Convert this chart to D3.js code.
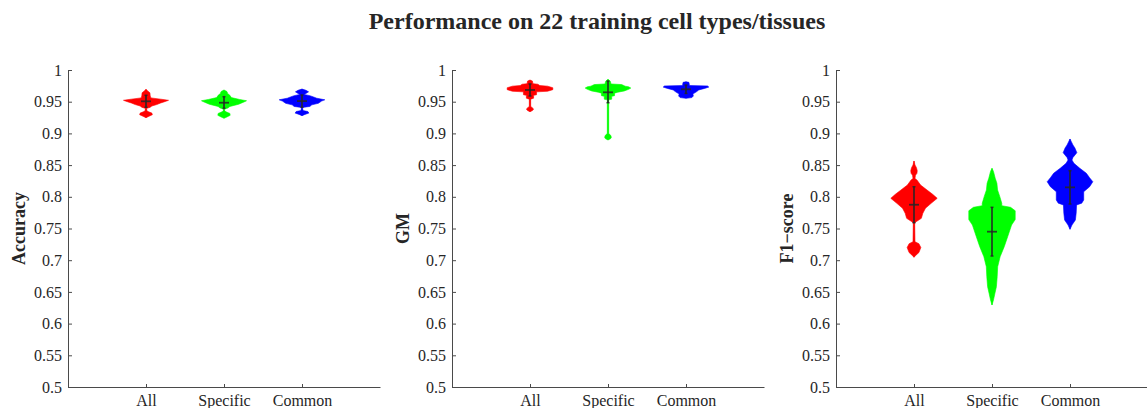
<!DOCTYPE html>
<html>
<head>
<meta charset="utf-8">
<script src="https://cdn.jsdelivr.net/npm/d3@7"></script>
<style>
  body { margin: 0; background: #fff; }
  svg { display: block; font-family: 'Liberation Serif', 'Times New Roman', serif; }
</style>
</head>
<body>
<svg id="chart" width="1147" height="408"></svg>
<script>
// categories and panels
const groups = ['All', 'Specific', 'Common']
const metrics = ['Accuracy', 'GM', 'F1\u2212score']
const yTicks = [0.5, 0.55, 0.6, 0.65, 0.7, 0.75, 0.8, 0.85, 0.9, 0.95, 1]

// violin outlines: [value, relative density]
const accAll = [[0.9248,0],[0.9270,3],[0.9295,6.5],[0.9320,6],[0.9345,2],[0.9365,0.7],[0.9395,0.7],[0.9410,4],[0.9432,6],[0.9455,11],[0.9480,15],[0.9500,19],[0.9522,23],[0.9540,15],[0.9560,5],[0.9590,4.3],[0.9640,4],[0.9665,2],[0.9696,0]]
const accSpecific = [[0.9238,0],[0.9260,3],[0.9285,6.3],[0.9315,6],[0.9340,2],[0.9360,0.7],[0.9385,0.7],[0.9400,4],[0.9425,6],[0.9460,15],[0.9500,21],[0.9515,23],[0.9535,16],[0.9565,7.5],[0.9600,6],[0.9630,3.7],[0.9660,3],[0.9685,0]]
const accCommon = [[0.9279,0],[0.9300,3],[0.9320,7],[0.9345,6],[0.9360,1],[0.9390,0.7],[0.9410,0.7],[0.9425,8],[0.9450,10],[0.9475,16.7],[0.9510,20],[0.9530,23.3],[0.9555,15],[0.9575,11.7],[0.9595,8],[0.9615,2],[0.9630,4],[0.9655,6.7],[0.9680,4],[0.9700,0]]

const gmAll = [[0.9342,0],[0.9360,2.5],[0.9385,3.7],[0.9410,2],[0.9425,0.7],[0.9540,0.7],[0.9555,3.7],[0.9600,3.7],[0.9610,6.7],[0.9655,6.7],[0.9665,18],[0.9690,23.3],[0.9720,23.3],[0.9745,18],[0.9755,10],[0.9775,8],[0.9785,3],[0.9825,2.5],[0.9842,0]]
const gmSpecific = [[0.8896,0],[0.8915,2.5],[0.8940,3.5],[0.8975,2.5],[0.9000,0.7],[0.9530,0.7],[0.9540,3.8],[0.9585,3.8],[0.9595,6.7],[0.9635,6.7],[0.9650,10],[0.9670,16.7],[0.9695,21],[0.9715,23.3],[0.9735,21],[0.9745,17.5],[0.9770,14],[0.9780,3],[0.9820,2.5],[0.9853,0]]
const gmCommon = [[0.9553,0],[0.9565,6],[0.9590,7.5],[0.9620,7],[0.9640,9],[0.9660,11],[0.9685,13],[0.9710,19],[0.9730,23.3],[0.9748,22],[0.9755,3.5],[0.9780,3.3],[0.9805,3],[0.9815,0]]

const f1All = [[0.7046,0],[0.7080,2],[0.7120,5],[0.7200,7],[0.7260,5],[0.7292,1],[0.7587,0.7],[0.7610,2.5],[0.7660,7.5],[0.7740,9],[0.7820,11.7],[0.7897,17.5],[0.7976,23.7],[0.8040,19],[0.8107,13.3],[0.8186,6.7],[0.8265,3],[0.8290,1],[0.8340,1.5],[0.8370,3],[0.8412,3.3],[0.8460,2.5],[0.8502,1],[0.8565,0]]
const f1Specific = [[0.6293,0],[0.6372,1.5],[0.6478,3],[0.6582,4.5],[0.6740,5.3],[0.6897,5.8],[0.7055,8.3],[0.7213,12.5],[0.7371,16],[0.7555,20],[0.7640,23.7],[0.7780,23.7],[0.7834,19],[0.7860,10],[0.7897,10],[0.8002,8],[0.8107,5.7],[0.8213,5],[0.8292,3.3],[0.8400,1.5],[0.8449,0]]
const f1Common = [[0.7487,0],[0.7555,2],[0.7634,5.5],[0.7740,6.3],[0.7871,6.7],[0.7900,12],[0.7950,14],[0.8080,14],[0.8159,20],[0.8238,23.3],[0.8300,20],[0.8371,16.7],[0.8450,10],[0.8528,4],[0.8580,2],[0.8620,3],[0.8696,7],[0.8770,5],[0.8817,3],[0.8880,1],[0.8912,0]]

// mean and mean +/- std
const accMeans = [0.9506, 0.9484, 0.9510]
const accLo = [0.9412, 0.9396, 0.9412]
const accHi = [0.9601, 0.9579, 0.9606]
const gmMeans = [0.9685, 0.9648, 0.9696]
const gmLo = [0.9590, 0.9484, 0.9630]
const gmHi = [0.9780, 0.9826, 0.9763]
const f1Means = [0.7875, 0.7450, 0.8149]
const f1Lo = [0.7591, 0.7066, 0.7886]
const f1Hi = [0.8159, 0.7834, 0.8412]

const panelData = [
  { profiles: [accAll, accSpecific, accCommon], means: accMeans, lo: accLo, hi: accHi },
  { profiles: [gmAll, gmSpecific, gmCommon], means: gmMeans, lo: gmLo, hi: gmHi },
  { profiles: [f1All, f1Specific, f1Common], means: f1Means, lo: f1Lo, hi: f1Hi }
]

const colors = ['#ff0000', '#00ff00', '#0000ff']
const svg = d3.select('#chart')
const panelLeft = [68, 452, 836]
const panelWidth = 312
const plotTop = 70
const plotBottom = 387
const axisColor = '#4a4a4a'
const textColor = '#262626'

svg.append('text')
  .attr('x', 597)
  .attr('y', 29)
  .attr('text-anchor', 'middle')
  .attr('font-size', 24)
  .attr('font-weight', 'bold')
  .attr('fill', textColor)
  .text('Performance on 22 training cell types/tissues')

const yScale = d3.scaleLinear().domain([0.5, 1]).range([plotBottom, plotTop])
const wScale = d3.scaleLinear().domain([0, 24]).range([0, 23.5])

panelData.forEach((p, pi) => {
  const left = panelLeft[pi]
  const xScale = d3.scaleLinear().domain([0, 4]).range([left, left + panelWidth])
  const g = svg.append('g')

  // violins
  p.profiles.forEach((prof, i) => {
    const cx = xScale(i + 1)
    const area = d3.area()
      .y(d => yScale(d[0]))
      .x0(d => cx - wScale(d[1]))
      .x1(d => cx + wScale(d[1]))
      .curve(d3.curveLinear)
    g.append('path')
      .datum(prof)
      .attr('d', area)
      .attr('fill', colors[i])
      .attr('stroke', colors[i])
      .attr('stroke-width', 0.6)

    // min-max whisker
    g.append('line')
      .attr('x1', cx).attr('x2', cx)
      .attr('y1', yScale(prof[0][0]))
      .attr('y2', yScale(prof[prof.length - 1][0]))
      .attr('stroke', colors[i])
      .attr('stroke-opacity', 0.5)
      .attr('stroke-width', 1.5)

    // mean +/- std bar and mean tick
    g.append('line')
      .attr('x1', cx).attr('x2', cx)
      .attr('y1', yScale(p.lo[i]))
      .attr('y2', yScale(p.hi[i]))
      .attr('stroke', textColor)
      .attr('stroke-opacity', 0.85)
      .attr('stroke-width', 1.8)
    ;[p.lo[i], p.hi[i]].forEach(v => {
      g.append('line')
        .attr('x1', cx - 1.5).attr('x2', cx + 1.5)
        .attr('y1', yScale(v)).attr('y2', yScale(v))
        .attr('stroke', textColor)
        .attr('stroke-opacity', 0.85)
        .attr('stroke-width', 1.5)
    })
    g.append('line')
      .attr('x1', cx - 5).attr('x2', cx + 5)
      .attr('y1', yScale(p.means[i]))
      .attr('y2', yScale(p.means[i]))
      .attr('stroke', textColor)
      .attr('stroke-opacity', 0.85)
      .attr('stroke-width', 1.8)
  })

  // y axis
  const yAxis = g.append('g')
    .attr('transform', `translate(${left},0)`)
    .call(d3.axisLeft(yScale)
      .tickValues(yTicks)
      .tickFormat(d => d3.format('')(+d.toFixed(2)))
      .tickSizeInner(-4)
      .tickSizeOuter(0)
      .tickPadding(6))
  // x axis
  const xAxis = g.append('g')
    .attr('transform', `translate(0,${plotBottom})`)
    .call(d3.axisBottom(xScale)
      .tickValues([1, 2, 3])
      .tickFormat((d, i) => groups[i])
      .tickSizeInner(-3)
      .tickSizeOuter(0)
      .tickPadding(8))

  ;[yAxis, xAxis].forEach(ax => {
    ax.select('.domain').attr('stroke', axisColor).attr('stroke-width', 1)
    ax.selectAll('.tick line').attr('stroke', axisColor)
    ax.selectAll('.tick text')
      .attr('fill', textColor)
      .attr('font-size', 16)
      .attr('font-family', "'Liberation Serif', 'Times New Roman', serif")
  })

  // axis title
  svg.append('text')
    .attr('transform', `translate(${left - 43},${(plotTop + plotBottom) / 2}) rotate(-90)`)
    .attr('text-anchor', 'middle')
    .attr('font-size', 18)
    .attr('font-weight', 'bold')
    .attr('fill', textColor)
    .text(metrics[pi])
})
</script>
</body>
</html>
